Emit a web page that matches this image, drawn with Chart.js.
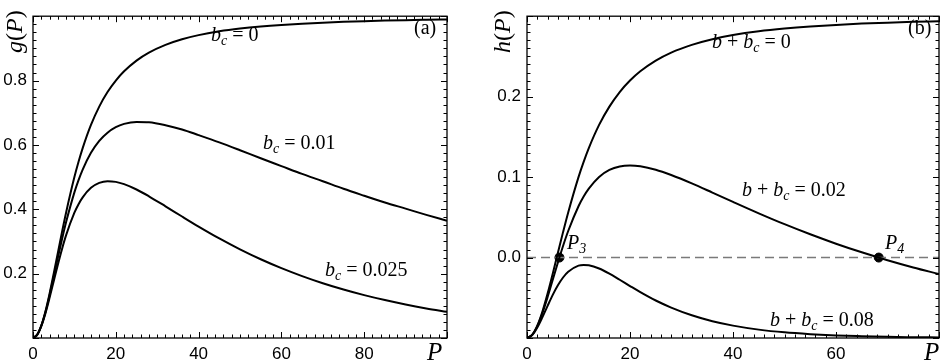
<!DOCTYPE html>
<html>
<head>
<meta charset="utf-8">
<script src="https://cdn.jsdelivr.net/npm/chart.js@4.4.0/dist/chart.umd.min.js"></script>
<style>
body { margin: 0; background: #fff; }
#wrap { position: relative; width: 945px; height: 364px; }
.pane { position: absolute; top: 0; height: 364px; }
</style>
</head>
<body>
<div id="wrap">
  <div class="pane" style="left:0;width:472px"><canvas id="graficoA" width="472" height="364"></canvas></div>
  <div class="pane" style="left:472px;width:473px"><canvas id="graficoB" width="473" height="364"></canvas></div>
</div>
<script>
// valores
var P = [0,1,2,3,4,5,6,7,8,10,11,12,14,16,18,20,22,25,28,32,36,40,45,50,55,60,65,70,75,80,85,90,95,100];

// painel (a): g(P)
var g_bc0    = [0,0.0099,0.0385,0.0826,0.1379,0.2,0.2647,0.3289,0.3902,0.5,0.5475,0.5902,0.6622,0.7191,0.7642,0.8,0.8288,0.8621,0.8869,0.911,0.9284,0.9412,0.9529,0.9615,0.968,0.973,0.9769,0.98,0.9825,0.9846,0.9863,0.9878,0.989,0.9901];
var g_bc001  = [0,0.0098,0.0377,0.0801,0.1325,0.1902,0.2493,0.3065,0.3602,0.4525,0.4905,0.5235,0.5755,0.6127,0.6381,0.6552,0.6655,0.6716,0.6705,0.6614,0.648,0.6306,0.608,0.5836,0.5585,0.5342,0.5099,0.4871,0.4637,0.4421,0.4211,0.402,0.3827,0.3643];
var g_bc0025 = [0,0.0097,0.0366,0.0766,0.1248,0.1765,0.2278,0.2761,0.3195,0.3894,0.4159,0.4372,0.4667,0.482,0.4873,0.4852,0.4781,0.4615,0.4404,0.4093,0.3775,0.3463,0.3094,0.2755,0.2447,0.2171,0.1924,0.1703,0.1507,0.1332,0.1178,0.1041,0.092,0.0813];

// painel (b): h(P), P de 0 a 80
var h_0    = [-0.1,-0.096,-0.0846,-0.067,-0.0448,-0.02,0.0059,0.0316,0.0561,0.1,0.119,0.1361,0.1649,0.1876,0.2057,0.22,0.2315,0.2448,0.2548,0.2644,0.2714,0.2765,0.2812,0.2846,0.2872,0.2892,0.2908,0.292,0.293,0.2938];
var h_002  = [-0.1,-0.0961,-0.0852,-0.0689,-0.0491,-0.0276,-0.0061,0.0144,0.033,0.0638,0.0758,0.0857,0.1002,0.1089,0.1133,0.1145,0.1135,0.1092,0.1026,0.0922,0.0808,0.0692,0.055,0.0415,0.0289,0.0172,0.0065,-0.0033,-0.0123,-0.0205];
var h_008  = [-0.1,-0.0964,-0.0869,-0.074,-0.06,-0.0464,-0.0345,-0.0248,-0.0177,-0.0101,-0.0092,-0.0096,-0.0136,-0.02,-0.0276,-0.0354,-0.043,-0.0534,-0.0622,-0.0718,-0.0792,-0.0846,-0.0896,-0.093,-0.0952,-0.0968,-0.0978,-0.0986,-0.099,-0.0993];

// pontos P3 e P4
var cruzP = [6.3, 68.3];
var cruzH = [0, 0];

function pares(xs, ys) {
  return ys.map(function (y, i) { return { x: xs[i], y: y }; });
}

var SERIF = '"Liberation Serif", "DejaVu Serif", serif';
var SANS = '"Liberation Sans", Arial, sans-serif';

// escreve texto tipo LaTeX: [texto, estilo] com estilo 'i' italico, 'r' normal, 's' subscrito
function escreve(ctx, x, y, partes, size) {
  partes.forEach(function (p) {
    var t = p[0], st = p[1];
    if (st === 's') {
      ctx.font = 'italic ' + Math.round(size * 0.7) + 'px ' + SERIF;
      ctx.fillText(t, x, y + size * 0.22);
    } else {
      ctx.font = (st === 'i' ? 'italic ' : '') + size + 'px ' + SERIF;
      ctx.fillText(t, x, y);
    }
    x += ctx.measureText(t).width;
  });
}

var moldura = {
  id: 'moldura',
  afterDraw: function (chart) {
    var o = chart.options.plugins.moldura;
    var ctx = chart.ctx, a = chart.chartArea;
    var xs = chart.scales.x, ys = chart.scales.y;
    ctx.save();
    ctx.strokeStyle = '#000';
    ctx.lineWidth = 1;
    ctx.beginPath();
    var n = Math.round((xs.max - xs.min) / o.xMinor);
    for (var i = 0; i <= n; i++) {
      var v = xs.min + i * o.xMinor;
      var px = Math.round(xs.getPixelForValue(v)) + 0.5;
      var r = (v - xs.min) / o.xMajor;
      var len = Math.abs(r - Math.round(r)) < 1e-6 ? 6 : 3.5;
      ctx.moveTo(px, a.bottom); ctx.lineTo(px, a.bottom - len);
      ctx.moveTo(px, a.top); ctx.lineTo(px, a.top + len);
    }
    n = Math.round((ys.max - ys.min) / o.yMinor);
    for (var j = 0; j <= n; j++) {
      var w = ys.min + j * o.yMinor;
      var py = Math.round(ys.getPixelForValue(w)) + 0.5;
      var q = (w - ys.min) / o.yMajor;
      var len2 = Math.abs(q - Math.round(q)) < 1e-6 ? 6 : 3.5;
      ctx.moveTo(a.left, py); ctx.lineTo(a.left + len2, py);
      ctx.moveTo(a.right, py); ctx.lineTo(a.right - len2, py);
    }
    ctx.stroke();
    ctx.lineWidth = 1.3;
    ctx.strokeRect(a.left, a.top, a.right - a.left, a.bottom - a.top);

    ctx.fillStyle = '#000';
    ctx.textBaseline = 'alphabetic';
    ctx.textAlign = 'left';
    o.textos.forEach(function (t) {
      escreve(ctx, t.x, t.y, t.partes, t.size || 20);
    });
    // titulo do eixo y, girado
    ctx.save();
    ctx.translate(o.yTitulo.x, o.yTitulo.y);
    ctx.rotate(-Math.PI / 2);
    escreve(ctx, 0, 0, o.yTitulo.partes, 24);
    ctx.restore();
    escreve(ctx, o.xTitulo.x, o.xTitulo.y, [['P', 'i']], 25);
    ctx.restore();
  }
};

function eixos(xmax, ymin, ymax, ystep, yW, hideX, hideY) {
  return {
    x: {
      type: 'linear', min: 0, max: xmax,
      grid: { display: false, drawTicks: false }, border: { display: false },
      ticks: {
        stepSize: 20, padding: 6, color: '#000',
        font: { family: SANS, size: 17 },
        callback: function (v) { return v === hideX ? '' : v; }
      },
      afterFit: function (s) { s.height = 26; }
    },
    y: {
      type: 'linear', min: ymin, max: ymax,
      grid: { display: false, drawTicks: false }, border: { display: false },
      ticks: {
        stepSize: ystep, padding: 6, color: '#000',
        font: { family: SANS, size: 17 },
        callback: function (v) {
          for (var k = 0; k < hideY.length; k++) if (Math.abs(v - hideY[k]) < 1e-9) return '';
          return v.toFixed(1);
        }
      },
      afterFit: function (s) { s.width = yW; }
    }
  };
}

var curva = {
  borderColor: '#000', borderWidth: 2, pointRadius: 0,
  cubicInterpolationMode: 'monotone', fill: false
};

// Gráfico (a)
new Chart(document.getElementById('graficoA'), {
  type: 'line',
  data: {
    datasets: [
      Object.assign({ label: 'bc=0', data: pares(P, g_bc0) }, curva),
      Object.assign({ label: 'bc=0.01', data: pares(P, g_bc001) }, curva),
      Object.assign({ label: 'bc=0.025', data: pares(P, g_bc0025) }, curva)
    ]
  },
  options: {
    responsive: false, animation: false, devicePixelRatio: 1,
    layout: { padding: { top: 5, right: 25, left: 0, bottom: 0 } },
    scales: eixos(100, 0, 1, 0.2, 33, 100, [0, 1]),
    plugins: {
      legend: { display: false }, tooltip: { enabled: false },
      moldura: {
        xMinor: 2, xMajor: 20, yMinor: 0.025, yMajor: 0.2,
        yTitulo: { x: 22, y: 53, partes: [['g', 'i'], ['(', 'r'], ['P', 'i'], [')', 'r']] },
        xTitulo: { x: 427, y: 360 },
        textos: [
          { x: 211, y: 41, partes: [['b', 'i'], ['c', 's'], [' = 0', 'r']] },
          { x: 263, y: 149, partes: [['b', 'i'], ['c', 's'], [' = 0.01', 'r']] },
          { x: 325, y: 276, partes: [['b', 'i'], ['c', 's'], [' = 0.025', 'r']] },
          { x: 414, y: 34, partes: [['(a)', 'r']] }
        ]
      }
    }
  },
  plugins: [moldura]
});

// Gráfico (b)
var nB = h_0.length;
new Chart(document.getElementById('graficoB'), {
  type: 'line',
  data: {
    datasets: [
      Object.assign({ label: 'b+bc=0', data: pares(P, h_0) }, curva),
      Object.assign({ label: 'b+bc=0.02', data: pares(P, h_002) }, curva),
      Object.assign({ label: 'b+bc=0.08', data: pares(P, h_008) }, curva),
      {
        label: 'zero', data: [{ x: 0, y: 0 }, { x: P[nB - 1], y: 0 }],
        borderColor: '#7a7a7a', borderWidth: 1.5, borderDash: [9, 5], pointRadius: 0
      },
      {
        label: 'P3 P4', data: pares(cruzP, cruzH), showLine: false,
        pointRadius: 4.5, pointBackgroundColor: '#000', pointBorderColor: '#000'
      }
    ]
  },
  options: {
    responsive: false, animation: false, devicePixelRatio: 1,
    layout: { padding: { top: 5, right: 5, left: 0, bottom: 0 } },
    scales: eixos(80, -0.1, 0.3, 0.1, 55, 80, [-0.1, 0.3]),
    plugins: {
      legend: { display: false }, tooltip: { enabled: false },
      moldura: {
        xMinor: 2, xMajor: 20, yMinor: 0.01, yMajor: 0.1,
        yTitulo: { x: 38, y: 53, partes: [['h', 'i'], ['(', 'r'], ['P', 'i'], [')', 'r']] },
        xTitulo: { x: 452, y: 360 },
        textos: [
          { x: 240, y: 48, partes: [['b', 'i'], [' + ', 'r'], ['b', 'i'], ['c', 's'], [' = 0', 'r']] },
          { x: 270, y: 196, partes: [['b', 'i'], [' + ', 'r'], ['b', 'i'], ['c', 's'], [' = 0.02', 'r']] },
          { x: 298, y: 326, partes: [['b', 'i'], [' + ', 'r'], ['b', 'i'], ['c', 's'], [' = 0.08', 'r']] },
          { x: 95, y: 249, partes: [['P', 'i'], ['3', 's']] },
          { x: 413, y: 249, partes: [['P', 'i'], ['4', 's']] },
          { x: 436, y: 34, partes: [['(b)', 'r']] }
        ]
      }
    }
  },
  plugins: [moldura]
});
</script>
</body>
</html>
